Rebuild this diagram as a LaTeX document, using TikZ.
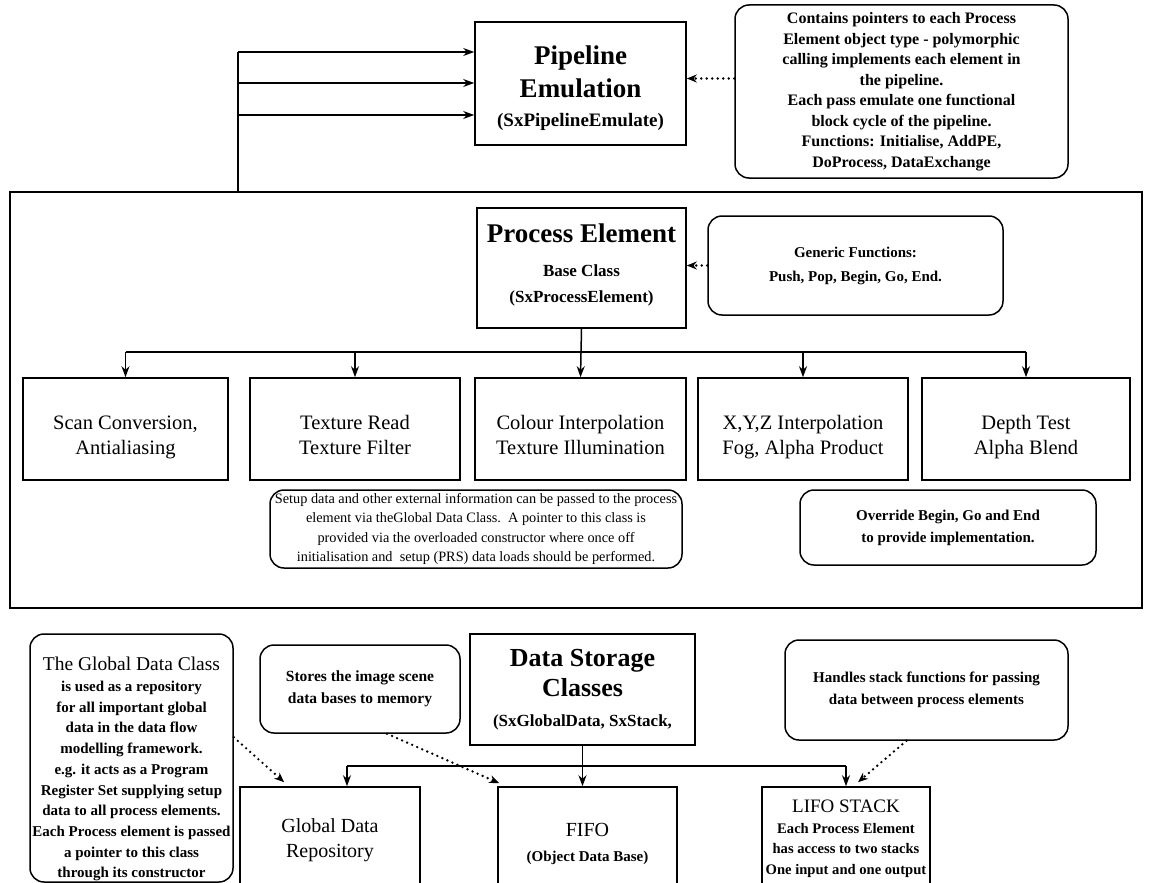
\documentclass[tikz,border=0pt]{standalone}
\usepackage{fontspec}
\setmainfont{Liberation Serif}
\usetikzlibrary{arrows.meta,calc}
\newcommand{\fs}[2]{\fontsize{#1}{#2}\selectfont}
\begin{document}
\begin{tikzpicture}[x=1pt,y=-1pt,
  box/.style={draw, line width=1.6pt, align=center, inner sep=0pt},
  note/.style={draw, line width=1.5pt, rounded corners=14pt, align=center, inner sep=0pt},
  arr/.style={line width=1.5pt, -{Stealth[length=11pt,width=8pt]}},
  dotarr/.style={line width=2.6pt, line cap=round, dash pattern=on 0pt off 5.5pt, -{Stealth[length=10pt,width=8pt]}},
  ln/.style={line width=1.5pt}]
\useasboundingbox (0,0) rectangle (1151,883);
\clip (0,0) rectangle (1151,883);
% top
\node[box, minimum width=211pt, minimum height=123pt, font=\fs{27}{33}\bfseries] (pipe) at (580.5,83.5)
  {\rule{0pt}{28pt}Pipeline\\ Emulation\\[-4pt] {\fs{19}{30}(SxPipelineEmulate)}};
\node[note, minimum width=333pt, minimum height=173pt, font=\fs{16}{20.5}\bfseries] (n1) at (901.5,91.5)
  {Contains pointers to each Process\\ Element object type - polymorphic\\
   calling implements each element in\\ the pipeline.\\ Each pass emulate one functional\\
   block cycle of the pipeline.\\ Functions: Initialise, AddPE,\\ DoProcess, DataExchange};
\draw[dotarr] ($(n1.west)+(0,-13)$) -- ($(pipe.east)+(0,-5)$);
% big container
\node[box, minimum width=1132pt, minimum height=416pt] (big) at (576,400) {};
\coordinate (lv) at (238,192);
\coordinate (t1) at (238,52);
\coordinate (t2) at (238,83);
\coordinate (t3) at (238,115);
\draw[ln] (lv) -- (t1);
\draw[arr] (t1) -- (t1 -| pipe.west);
\draw[arr] (t2) -- (t2 -| pipe.west);
\draw[arr] (t3) -- (t3 -| pipe.west);
% process element
\node[box, minimum width=209pt, minimum height=120pt, font=\fs{17}{26}\bfseries] (pe) at (581.5,268)
  {{\fs{27}{30}Process Element}\\[8pt] Base Class\\ (SxProcessElement)\rule[-10pt]{0pt}{10pt}};
\node[note, minimum width=295pt, minimum height=99pt, font=\fs{15}{24}\bfseries] (gen) at (855.5,265.5)
  {Generic Functions:\\ Push, Pop, Begin, Go, End.};
\draw[dotarr] (gen.west) -- (pe.east |- gen.west);
% stages
\tikzset{stage/.style={box, minimum height=102pt, font=\fs{20.5}{25}}}
\newcommand{\topr}{\rule{0pt}{32pt}}
\newcommand{\botr}{\rule[-7pt]{0pt}{7pt}}
\node[stage, minimum width=205pt] (scan) at (125.5,429) {\topr Scan Conversion,\\ Antialiasing\botr};
\node[stage, minimum width=210pt] (tex) at (355,429) {\topr Texture Read\\ Texture Filter\botr};
\node[stage, minimum width=211pt] (col) at (580.5,429) {\topr Colour Interpolation\\ Texture Illumination\botr};
\node[stage, minimum width=210pt] (xyz) at (803,429) {\topr X,Y,Z Interpolation\\ Fog, Alpha Product\botr};
\node[stage, minimum width=208pt] (dep) at (1026,429) {\topr Depth Test\\ Alpha Blend\botr};
\coordinate (busA) at (0,352);
\draw[ln] (scan.north |- busA) -- (dep.north |- busA);
\draw[arr] (pe.south) -- (col.north);
\draw[arr] (scan.north |- busA) -- (scan.north);
\draw[arr] (tex.north |- busA) -- (tex.north);
\draw[arr] (xyz.north |- busA) -- (xyz.north);
\draw[arr] (dep.north |- busA) -- (dep.north);
\node[note, minimum width=412pt, minimum height=78pt, font=\fs{14.3}{19.5}] (setup) at (476,529)
  {Setup data and other external information can be passed to the process\\
   element via theGlobal Data Class.\ \ A pointer to this class is\\
   provided via the overloaded constructor where once off\\
   initialisation and\ \ setup (PRS) data loads should be performed.};
\node[note, minimum width=296pt, minimum height=75pt, font=\fs{15}{22}\bfseries] (ovr) at (948,527.5)
  {Override Begin, Go and End\\ to provide implementation.};
% bottom
\node[note, minimum width=203pt, minimum height=248pt, font=\fs{15}{20.7}\bfseries] (glob) at (131.5,758)
  {{\fs{19.5}{22}\mdseries\rule{0pt}{36pt}The Global Data Class}\\ is used as a repository\\
   for all important global\\ data in the data flow\\ modelling framework.\\
   e.g. it acts as a Program\\ Register Set supplying setup\\ data to all process elements.\\
   Each Process element is passed\\ a pointer to this class\\ through its constructor};
\node[note, minimum width=200pt, minimum height=88pt, font=\fs{15.5}{22}\bfseries] (stores) at (360,689)
  {Stores the image scene\\ data bases to memory};
\node[box, minimum width=225pt, minimum height=111pt, font=\fs{26}{30}\bfseries] (ds) at (582.5,689.5)
  {Data Storage\\ Classes\\ {\fs{17}{28}(SxGlobalData, SxStack,}};
\node[note, minimum width=283pt, minimum height=100pt, font=\fs{15}{22}\bfseries] (hand) at (926.5,690)
  {Handles stack functions for passing\\ data between process elements};
\node[box, minimum width=180pt, minimum height=106pt, font=\fs{20}{25}] (gdr) at (330,840) {Global Data\\ Repository};
\node[box, minimum width=179pt, minimum height=114pt, font=\fs{15}{25}\bfseries] (fifo) at (587.5,844) {{\fs{20}{25}\mdseries FIFO}\\ (Object Data Base)};
\node[box, minimum width=168pt, minimum height=104pt, font=\fs{14.6}{20.5}\bfseries] (lifo) at (846,839)
  {{\fs{19}{22}\mdseries LIFO STACK}\\ Each Process Element\\ has access to two stacks\\ One input and one output};
\coordinate (busB) at (0,766);
\draw[ln] ($(gdr.north |- busB)+(17,0)$) -- (lifo.north |- busB);
\draw[arr] ($(gdr.north |- busB)+(17,0)$) -- ($(gdr.north)+(17,0)$);
\draw[arr] (ds.south) -- (ds.south |- fifo.north);
\draw[arr] (lifo.north |- busB) -- (lifo.north);
\draw[dotarr] ($(glob.north east)+(0,104)$) -- ($(gdr.north west)+(45,-4)$);
\draw[dotarr] ($(stores.south)+(27,0)$) -- ($(fifo.north west)+(2,-3)$);
\draw[dotarr] ($(hand.south)+(-20,0)$) -- ($(lifo.north)+(12,-4)$);
\end{tikzpicture}
\end{document}
